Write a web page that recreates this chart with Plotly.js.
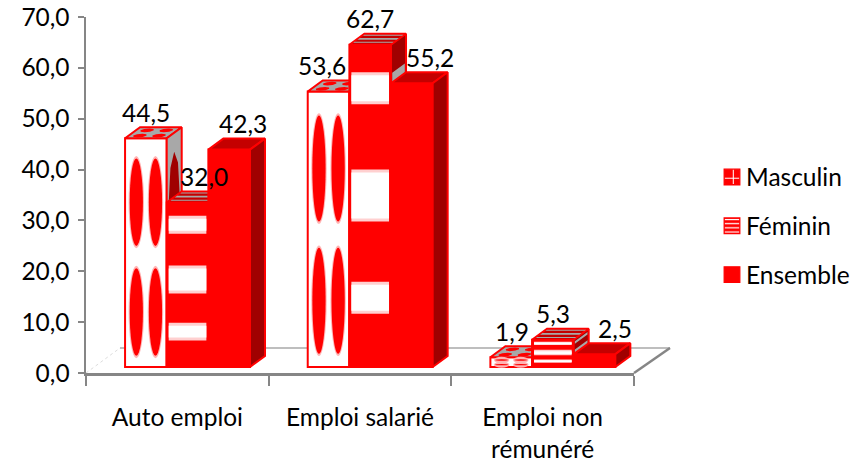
<!DOCTYPE html>
<html><head><meta charset="utf-8">
<script src="https://cdn.plot.ly/plotly-3.0.1.min.js"></script>
<style>html,body{margin:0;padding:0;background:#fff}</style></head>
<body><div id="chart" style="width:855px;height:464px"></div>
<script>
const categories = ['Auto emploi', 'Emploi salarié', 'Emploi non<br>rémunéré'];
const masculin = [44.5, 53.6, 1.9];
const feminin = [32.0, 62.7, 5.3];
const ensemble = [42.3, 55.2, 2.5];
const seriesNames = ['Masculin', 'Féminin', 'Ensemble'];
// manual label nudges (px) relative to the centre of each bar
const labelShift = [[0, -7, 1], [16, 0, 0], [14, 18, 20]];

const W = 855, H = 464, FONT = 'Lato, Carlito, Calibri, sans-serif', FS = 24.5;
const AX = '#868686', RED = '#ff0000', DARK = '#a00000', TOPC = '#c40000', GRAY = '#a8a8a8';
const pxX = 182.67, pxY = 5.14;               // px per unit of the bar axes
const barW = 0.228;
const dx = 15 / pxX, dy = 11 / pxY;           // oblique depth of each bar
const bandF = [[.17, .26], [.456, .608], [.82, .91]];
const rowF = [[.044, .437], [.524, .917]];
const colF = [.27, .73];

const px = v => v / W, py = v => 1 - v / H;

function quad(fn, u0, u1, v0, v1) {
  return [fn(u0, v0), fn(u1, v0), fn(u1, v1), fn(u0, v1), fn(u0, v0)];
}
function oval(fn, uc, vc, ru, rv) {
  const k = .7, p = [[0, 1], [k, k], [1, 0], [k, -k], [0, -1], [-k, -k], [-1, 0], [-k, k], [0, 1]];
  return p.map(q => fn(uc + q[0] * ru, vc + q[1] * rv));
}
function polys(list) {
  const x = [], y = [];
  list.forEach(l => { l.forEach(p => { x.push(p[0]); y.push(p[1]); }); x.push(null); y.push(null); });
  return { x, y };
}
function faces(i, s, v) {
  const x0 = i + (s - 1.5) * barW, x1 = x0 + barW;
  return {
    x0, x1,
    top: (u, d) => [x0 + u * barW + d * dx, v + d * dy],
    side: (d, f) => [x1 + d * dx, v * f + d * dy],
  };
}

const traces = [{
  type: 'scatter', x: categories, y: [0, 0, 0], mode: 'none', hoverinfo: 'skip', showlegend: false, xaxis: 'x', yaxis: 'y'
}];
[masculin, feminin, ensemble].forEach((vals, s) => {
  const marker = {
    color: ['#ffffff', RED, RED][s],
    line: { color: RED, width: 2 }
  };
  traces.push({
    type: 'bar', name: seriesNames[s], x: categories, y: [null, null, null], xaxis: 'x', yaxis: 'y',
    showlegend: true, legendgroup: seriesNames[s], hoverinfo: 'skip',
    marker: {
      color: RED, line: { color: RED, width: 1 },
      pattern: s === 0 ? { shape: '+', fgcolor: '#fff', bgcolor: RED, size: 12, solidity: .15 }
        : s === 1 ? { shape: '-', fgcolor: '#fff', bgcolor: RED, size: 4, solidity: .3 } : { shape: '' }
    }
  });
  const ax = String(s + 2);
  traces.push({
    type: 'bar', name: seriesNames[s], x: [0, 1, 2], y: vals, xaxis: 'x' + ax, yaxis: 'y' + ax,
    width: barW, offset: (s - 1.5) * barW, marker, showlegend: false
  });
  const base = [], detail = [], dark = [];
  vals.forEach((v, i) => {
    const f = faces(i, s, v);
    base.push({ k: 'top', p: quad(f.top, 0, 1, 0, 1) });
    base.push({ k: 'side', p: quad(f.side, 0, 1, 0, 1) });
    if (s === 0) {
      rowF.forEach(r => colF.forEach(c => detail.push(oval(f.top, c, (r[0] + r[1]) / 2, .16, .17))));
      rowF.forEach(r => dark.push(oval(f.side, .5, (r[0] + r[1]) / 2, .36, (r[1] - r[0]) / 2)));
    }
    if (s === 1) {
      bandF.forEach(b => detail.push(quad(f.top, .03, .97, b[0], b[1])));
      bandF.forEach(b => dark.push(quad(f.side, .08, .92, b[0], b[1])));
    }
  });
  const topFill = ['#a8a8a8', TOPC, TOPC][s], sideFill = ['#a8a8a8', DARK, DARK][s];
  const add = (list, fill, lw) => {
    const xy = polys(list);
    traces.push({
      type: 'scatter', mode: 'lines', x: xy.x, y: xy.y, xaxis: 'x' + ax, yaxis: 'y' + ax, fill: 'toself', fillcolor: fill,
      line: { color: lw ? RED : fill, width: lw }, hoverinfo: 'skip', showlegend: false
    });
  };
  add(base.filter(b => b.k === 'top').map(b => b.p), topFill, 2);
  add(base.filter(b => b.k === 'side').map(b => b.p), sideFill, 2);
  if (detail.length) add(detail, s === 0 ? RED : GRAY, 0);
  if (dark.length) add(dark, s === 0 ? DARK : GRAY, 0);
});

const shapes = [
  { type: 'line', xref: 'paper', yref: 'paper', x0: px(120), x1: px(670), y0: py(348), y1: py(348), line: { color: '#a8a8a8', width: 1.5 }, layer: 'below' },
  { type: 'line', xref: 'paper', yref: 'paper', x0: px(634), x1: px(670), y0: py(373), y1: py(348), line: { color: AX, width: 2.5 }, layer: 'below' },
  { type: 'line', xref: 'paper', yref: 'paper', x0: px(86), x1: px(120), y0: py(373), y1: py(348), line: { color: '#dddddd', width: 1, dash: 'dot' }, layer: 'below' }
];
const rectS = (a, b, c, d, col) => ({ type: 'rect', xref: 'x2', yref: 'y2', x0: a, x1: b, y0: c, y1: d, fillcolor: col, line: { width: 0 }, layer: 'above' });
const ovalS = (a, b, c, d, col) => ({ type: 'circle', xref: 'x2', yref: 'y2', x0: a, x1: b, y0: c, y1: d, fillcolor: col, line: { width: 0 }, layer: 'above' });
masculin.forEach((v, i) => {
  const x0 = i - 1.5 * barW;
  rowF.forEach(r => colF.forEach(c => {
    const cx = x0 + c * barW, rx = .185 * barW;
    const pad = 1.2 / pxY;
    shapes.push(ovalS(cx - rx, cx + rx, v * r[0] - pad, v * r[1] + pad, '#ffb4b4'));
    shapes.push(ovalS(cx - rx * .86, cx + rx * .86, v * r[0] + pad, v * r[1] - pad, RED));
  }));
});
feminin.forEach((v, i) => {
  const x0 = i - .5 * barW, a = x0 + 2 / pxX, b = x0 + barW - 2 / pxX;
  bandF.forEach(f => {
    const h = v * (f[1] - f[0]);
    const blur = Math.min(3 / pxY, h / 3);
    shapes.push(rectS(a, b, v * f[0] - blur * .5, v * f[1] + blur * .5, '#ffd0d0'));
    shapes.push(rectS(a, b, v * f[0] + blur * .5, v * f[1] - blur * .5, '#ffffff'));
  });
});

const annotations = [];
[masculin, feminin, ensemble].forEach((vals, s) => vals.forEach((v, i) => {
  annotations.push({
    xref: 'x2', yref: 'y2', x: i + (s - 1) * barW, y: v, text: v.toFixed(1).replace('.', ','),
    showarrow: false, xanchor: 'center', yanchor: 'middle', xshift: labelShift[s][i], yshift: 26,
    font: { family: FONT, size: FS, color: '#000' }
  });
}));

const y0 = 6 / pxY, yRange = [-y0, (373 - 17 - 6) / pxY];
const shift = 10.2 / pxX, xRange = [-.5 - shift, 2.5 - shift];
const over = (xy, i) => ({ overlaying: xy, range: xy === 'x' ? xRange : yRange, visible: false, fixedrange: true, anchor: (xy === 'x' ? 'y' : 'x') + i });
const layout = {
  width: W, height: H, margin: { l: 0, r: 0, t: 0, b: 0 }, autosize: false,
  paper_bgcolor: '#fff', plot_bgcolor: 'rgba(0,0,0,0)', separators: ', ',
  barmode: 'overlay', hovermode: false,
  font: { family: FONT, size: FS, color: '#000' },
  xaxis: {
    domain: [px(86), px(634)], type: 'category', categoryorder: 'array', categoryarray: categories, range: [-.5, 2.5],
    tickson: 'boundaries', ticks: 'outside', ticklen: 10, tickwidth: 2, tickcolor: AX, ticklabelstandoff: 21,
    showline: true, linecolor: AX, linewidth: 2.5, showgrid: false, zeroline: false, anchor: 'y',
    tickfont: { family: FONT, size: FS, color: '#000' }, fixedrange: true
  },
  yaxis: {
    domain: [py(373), py(17)], range: [0, 70], dtick: 10, tickformat: '.1f', ticks: 'outside', ticklen: 6, tickwidth: 2, tickcolor: AX, ticklabelstandoff: 3,
    showline: true, linecolor: AX, linewidth: 2.5, showgrid: false, zeroline: false, anchor: 'x',
    tickfont: { family: FONT, size: FS, color: '#000' }, fixedrange: true
  },
  xaxis2: over('x', 2), yaxis2: over('y', 2),
  xaxis3: over('x', 3), yaxis3: over('y', 3),
  xaxis4: over('x', 4), yaxis4: over('y', 4),
  legend: {
    x: px(706), xanchor: 'left', y: py(226), yanchor: 'middle', bgcolor: 'rgba(0,0,0,0)',
    tracegroupgap: 14, font: { family: FONT, size: FS, color: '#000' }, traceorder: 'grouped', itemclick: false, itemdoubleclick: false
  },
  shapes, annotations
};
Plotly.newPlot('chart', traces, layout, { displayModeBar: false, staticPlot: true }).then(() => {
  // legend swatches: enlarged to the reference's size, cross centred in its square
  const points = document.querySelectorAll('#chart .legend .legendpoints');
  points.forEach(g => g.setAttribute('transform', 'scale(1.3)'));
  const swatch = points[0] && points[0].querySelector('path');
  const m = swatch && /url\(["']?#([^"')]+)/.exec(swatch.style.fill);
  const pat = m && document.getElementById(m[1]);
  if (pat) pat.setAttribute('patternTransform', 'translate(6,6)');
});
</script></body></html>
